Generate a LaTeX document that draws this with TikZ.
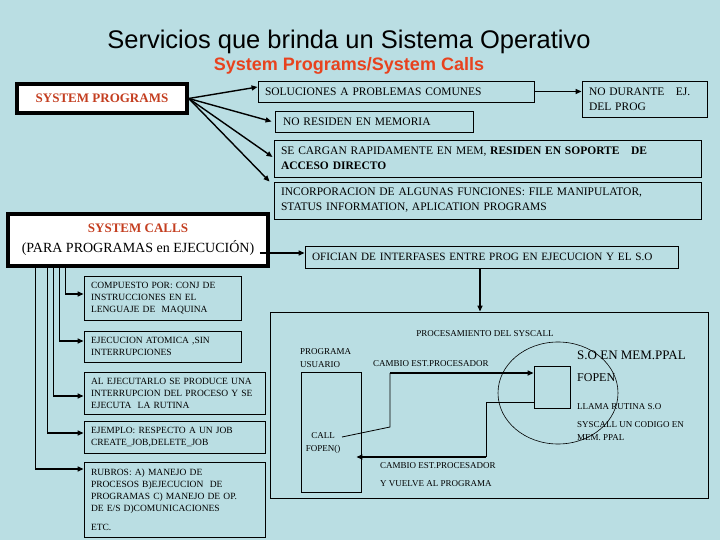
\documentclass[tikz,border=0pt]{standalone}
\usepackage{fontspec}
\setmainfont{Liberation Serif}
\newfontfamily\arialf{Liberation Sans}
\usetikzlibrary{arrows.meta,shapes.geometric}
\definecolor{bgc}{RGB}{186,222,227}
\definecolor{redt}{RGB}{196,62,32}
\definecolor{titred}{RGB}{232,66,30}
\begin{document}
\begin{tikzpicture}[x=1pt,y=-1pt,
  box/.style={draw=black,line width=0.9pt,inner ysep=0pt,inner xsep=7pt,align=left,
    font=\fontsize{11.5}{15}\selectfont},
  thickbox/.style={draw=black,line width=3.5pt,fill=white,inner sep=0pt,align=center},
  sbox/.style={draw=black,line width=0.9pt,inner ysep=0pt,inner xsep=7pt,align=left,
    font=\fontsize{9.5}{12}\selectfont},
  lbl/.style={inner sep=0pt,font=\fontsize{9}{12.5}\selectfont,align=left},
  arr/.style={line width=1.4pt,-{Triangle[length=6pt,width=5pt]}},
  thinln/.style={line width=0.8pt},
  thickarr/.style={line width=1.8pt,-{Triangle[length=6pt,width=5pt]}}
]
\fill[bgc] (0,0) rectangle (720,540);
\useasboundingbox (0,0) rectangle (720,540);

% titles
\node[inner sep=0pt,font=\arialf\fontsize{25.5}{28}\selectfont] (title) at (349,42) {Servicios que brinda un Sistema Operativo};
\node[inner sep=0pt,text=titred,font=\arialf\bfseries\fontsize{18}{20}\selectfont] (subtitle) at (349,66) {System Programs/System Calls};

% system programs
\node[thickbox,minimum width=170,minimum height=29,text=redt,font=\bfseries\fontsize{13}{15}\selectfont] (sp) at (102,98.5) {SYSTEM PROGRAMS};
\node[box,minimum height=21,text width=262] (sol) at (396,91.5) {SOLUCIONES A PROBLEMAS COMUNES};
\node[box,minimum height=36,text width=111] (nodur) at (644.5,99) {NO DURANTE \ \ EJ.\\DEL PROG};
\node[box,minimum height=21,text width=182,inner xsep=8pt] (nores) at (374,121.5) {NO RESIDEN EN MEMORIA};
\node[box,minimum height=37,text width=413] (secar) at (487.5,158.5) {SE CARGAN RAPIDAMENTE EN MEM, \textbf{RESIDEN EN SOPORTE \ \ DE}\\\textbf{ACCESO DIRECTO}};
\node[box,minimum height=37,text width=413] (incorp) at (487.5,200.5) {INCORPORACION DE ALGUNAS FUNCIONES: FILE MANIPULATOR,\\STATUS INFORMATION, APLICATION PROGRAMS};

\draw[arr] (sp.east) -- ([yshift=4.5pt]sol.west);
\draw[arr] (sp.east) -- ([xshift=-3pt]nores.west);
\draw[arr] (sp.east) -- ([xshift=-1pt,yshift=1.5pt]secar.west);
\draw[arr] (sp.east) -- ([xshift=-4pt]incorp.north west);
\draw[arr] (sol.east) -- (sol.east -| nodur.west);

% system calls
\node[thickbox,minimum width=260,minimum height=52] (sc) at (138,240)
  {{\color{redt}\bfseries\fontsize{13}{15}\selectfont SYSTEM CALLS}\\[7pt]{\fontsize{14}{16}\selectfont (PARA PROGRAMAS en EJECUCIÓN)}};
\node[box,minimum height=22,text width=359,font=\fontsize{11.2}{15}\selectfont] (ofi) at (491.5,257) {OFICIAN DE INTERFASES ENTRE PROG EN EJECUCION Y EL S.O};
\coordinate (scout) at ([xshift=-10pt,yshift=-13pt]sc.east);
\draw[arr] (scout) -- (scout -| ofi.west);

% left column
\node[sbox,minimum height=44,text width=143] (comp) at (162.5,298) {COMPUESTO POR: CONJ DE\\INSTRUCCIONES EN EL\\LENGUAJE DE \ MAQUINA};
\node[sbox,minimum height=31,text width=143] (ejec) at (162.5,346.5) {EJECUCION ATOMICA ,SIN\\INTERRUPCIONES};
\node[sbox,minimum height=42,text width=167] (alej) at (174.5,393) {AL EJECUTARLO SE PRODUCE UNA\\INTERRUPCION DEL PROCESO Y SE\\EJECUTA \ LA RUTINA};
\node[sbox,minimum height=32,text width=167] (ejem) at (174.5,437) {EJEMPLO: RESPECTO A UN JOB\\CREATE\_JOB,DELETE\_JOB};
\node[sbox,minimum height=75,text width=167] (rub) at (174.5,499.5) {RUBROS: A) MANEJO DE\\PROCESOS B)EJECUCION \ DE\\PROGRAMAS C) MANEJO DE OP.\\DE E/S D)COMUNICACIONES\\[7pt]ETC.};

\draw[arr] ([xshift=29pt]sc.south west) |- ([yshift=30.5pt]rub.west);
\draw[arr] ([xshift=41pt]sc.south west) |- ([yshift=4pt]ejem.west);
\draw[arr] ([xshift=47pt]sc.south west) |- ([yshift=-3pt]alej.west);
\draw[arr] ([xshift=53pt]sc.south west) |- ([yshift=5.5pt]ejec.west);
\draw[arr] ([xshift=59pt]sc.south west) |- ([yshift=4pt]comp.west);

% syscall processing
\node[draw=black,line width=0.9pt,minimum width=438,minimum height=186,inner sep=0pt] (big) at (489,405) {};
\coordinate (ofd) at ([xshift=-11.5pt]ofi.south);
\draw[arr] (ofd) -- (ofd |- big.north);

\node[lbl] (proc) at (485,334) {PROCESAMIENTO DEL SYSCALL};
\node[lbl,anchor=west] (pulab) at (300,358) {PROGRAMA\\USUARIO};
\node[draw=black,line width=0.9pt,minimum width=60,minimum height=120,inner sep=0pt] (pu) at (331,432) {};
\node[lbl,align=center] (call) at (323,443) {CALL\\FOPEN()};
\node[lbl,anchor=west] (camb1) at (373,364) {CAMBIO EST.PROCESADOR};
\node[lbl,anchor=west] (camb2) at (380,466) {CAMBIO EST.PROCESADOR};
\node[lbl,anchor=west] (vuelve) at (380,484) {Y VUELVE AL PROGRAMA};
\node[draw=black,line width=0.9pt,minimum width=36,minimum height=42,inner sep=0pt] (sq) at (552,387) {};
\node[draw=black,line width=0.6pt,ellipse,minimum width=120,minimum height=102,inner sep=0pt] (ell) at (558,393) {};
\node[inner sep=0pt,anchor=west,font=\fontsize{13}{15}\selectfont] (soen) at (577,355) {S.O EN MEM.PPAL};
\node[inner sep=0pt,anchor=west,font=\fontsize{12}{14}\selectfont] (fopen) at (577,378) {FOPEN};
\node[lbl,anchor=west] (llama) at (577,407) {LLAMA RUTINA S.O};
\node[lbl,anchor=west] (sysc) at (577,431) {SYSCALL UN CODIGO EN\\MEM. PPAL};

\coordinate (c0) at ([xshift=11pt,yshift=-5pt]pu.center);
\coordinate (c1) at (390,427);
\coordinate (c2) at (390,373);
\draw[thinln] (c0) -- (c1) -- (c2);
\draw[thickarr] (c2) -- (c2 -| sq.west);
\coordinate (d0) at ([yshift=-15pt]sq.west);
\coordinate (d1) at (486,402);
\coordinate (d2) at (486,457);
\draw[thinln] (d0) -- (d1) -- (d2);
\draw[thickarr] (d2) -- ([xshift=-5pt]d2 -| pu.east);
\end{tikzpicture}
\end{document}
